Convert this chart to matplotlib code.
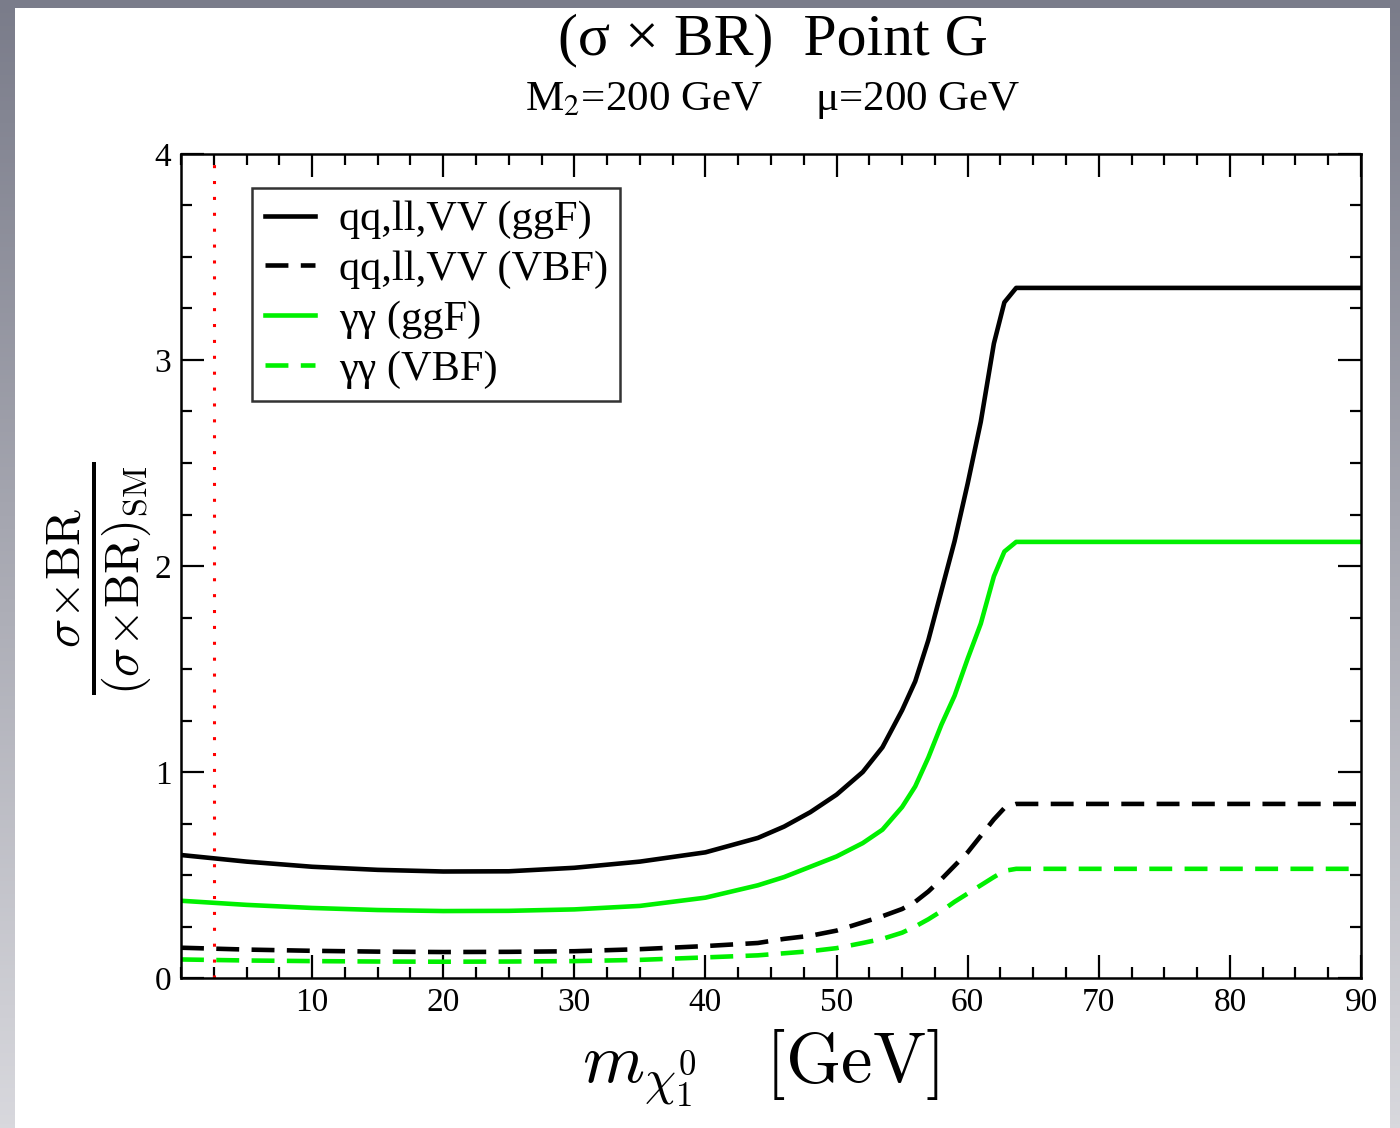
import numpy as np
import matplotlib
matplotlib.use("Agg")
import matplotlib.pyplot as plt
from matplotlib.patches import Rectangle
from matplotlib.ticker import MultipleLocator, FixedLocator

# ---------------- data ----------------
mass = [0, 5, 10, 15, 20, 25, 30, 35, 40, 44, 46, 48, 50, 52, 53.5, 55, 56, 57,
        58, 59, 60, 61, 62, 62.8, 63.7, 70, 80, 90]
qq_ggF = [0.597, 0.565, 0.54, 0.525, 0.517, 0.518, 0.535, 0.565, 0.61, 0.68, 0.735,
          0.805, 0.89, 1.00, 1.12, 1.30, 1.44, 1.64, 1.88, 2.12, 2.40, 2.70, 3.08,
          3.28, 3.35, 3.35, 3.35, 3.35]
qq_VBF = [0.147, 0.138, 0.132, 0.128, 0.126, 0.127, 0.13, 0.14, 0.155, 0.17, 0.19,
          0.205, 0.23, 0.27, 0.30, 0.335, 0.37, 0.42, 0.48, 0.545, 0.61, 0.69, 0.77,
          0.825, 0.845, 0.845, 0.845, 0.845]
aa_ggF = [0.375, 0.355, 0.34, 0.33, 0.325, 0.326, 0.333, 0.35, 0.39, 0.45, 0.49,
          0.54, 0.59, 0.655, 0.72, 0.83, 0.93, 1.07, 1.23, 1.37, 1.55, 1.72, 1.95,
          2.07, 2.117, 2.117, 2.117, 2.117]
aa_VBF = [0.09, 0.085, 0.082, 0.08, 0.079, 0.08, 0.082, 0.088, 0.10, 0.11, 0.12,
          0.13, 0.145, 0.17, 0.19, 0.22, 0.25, 0.285, 0.325, 0.37, 0.41, 0.45, 0.49,
          0.52, 0.53, 0.53, 0.53, 0.53]
limit_x = 2.5
labels = ["qq,ll,VV (ggF)", "qq,ll,VV (VBF)", "γγ (ggF)", "γγ (VBF)"]
xticks = [10, 20, 30, 40, 50, 60, 70, 80, 90]
yticks = [0, 1, 2, 3, 4]

# ---------------- figure ----------------
SERIF = ["Liberation Serif", "DejaVu Serif"]
plt.rcParams["font.family"] = SERIF
plt.rcParams["mathtext.fontset"] = "cm"

fig = plt.figure(figsize=(14, 11.28), dpi=100)

# slide-like gray gradient background
bg = fig.add_axes([0, 0, 1, 1], zorder=-10)
top = np.array([122, 124, 138]) / 255
bot = np.array([216, 216, 221]) / 255
t = np.linspace(0, 1, 256)[:, None, None]
grad = top * (1 - t) + bot * t
grad = np.repeat(grad, 2, axis=1)
bg.imshow(grad, aspect="auto", extent=[0, 1, 0, 1], origin="upper")
bg.add_patch(Rectangle((15 / 1400, 0), (1390 - 15) / 1400, 1 - 8 / 1128,
                       facecolor="white", edgecolor="none"))
bg.set_xlim(0, 1)
bg.set_ylim(0, 1)
bg.axis("off")

ax = fig.add_axes([181 / 1400, 1 - 978 / 1128, (1361 - 181) / 1400, (978 - 154) / 1128])

lw = 3.3
dash = (5, 2.7)
green = "#00f000"
ax.plot(mass, qq_ggF, color="black", lw=lw, label=labels[0])
ax.plot(mass, qq_VBF, color="black", lw=lw, dashes=dash, label=labels[1])
ax.plot(mass, aa_ggF, color=green, lw=lw, label=labels[2])
ax.plot(mass, aa_VBF, color=green, lw=lw, dashes=dash, label=labels[3])
ax.axvline(limit_x, color="red", lw=2.2, linestyle=(0, (1, 4.2)))

ax.set_xlim(0, 90)
ax.set_ylim(0, 4)
ax.xaxis.set_major_locator(FixedLocator(xticks))
ax.xaxis.set_minor_locator(MultipleLocator(2.5))
ax.yaxis.set_major_locator(FixedLocator(yticks))
ax.yaxis.set_minor_locator(MultipleLocator(0.25))
ax.tick_params(which="both", direction="in", top=True, right=True, width=1.6)
ax.tick_params(which="major", length=16.5, labelsize=24, pad=7)
ax.tick_params(which="minor", length=8)
for s in ax.spines.values():
    s.set_linewidth(1.8)

leg = ax.legend(loc="upper left", bbox_to_anchor=(0.060, 0.9587), borderaxespad=0,
                fontsize=30.5, frameon=True, fancybox=False, edgecolor="black",
                handlelength=1.2, handletextpad=0.55, labelspacing=0.26,
                borderpad=0.3)
leg.get_frame().set_linewidth(1.8)

# titles
fig.text(0.552, 0.964, "(σ × BR)  Point G", ha="center", va="center", fontsize=43)
fig.text(0.552, 0.911, r"M$_2$=200 GeV     μ=200 GeV", ha="center", va="center",
         fontsize=31, math_fontfamily="stix")

# axis labels
fig.text(0.071, 0.487, r"$\frac{\sigma\!\times\!\mathrm{BR}}{(\sigma\!\times\!\mathrm{BR})_{\mathrm{SM}}}$",
         rotation=90, ha="center", va="center", fontsize=50)
fig.text(0.543, 0.053, r"$m_{\chi_1^0}\quad[\mathrm{GeV}]$", ha="center", va="center",
         fontsize=51)

fig.savefig("out.png", dpi=100)
